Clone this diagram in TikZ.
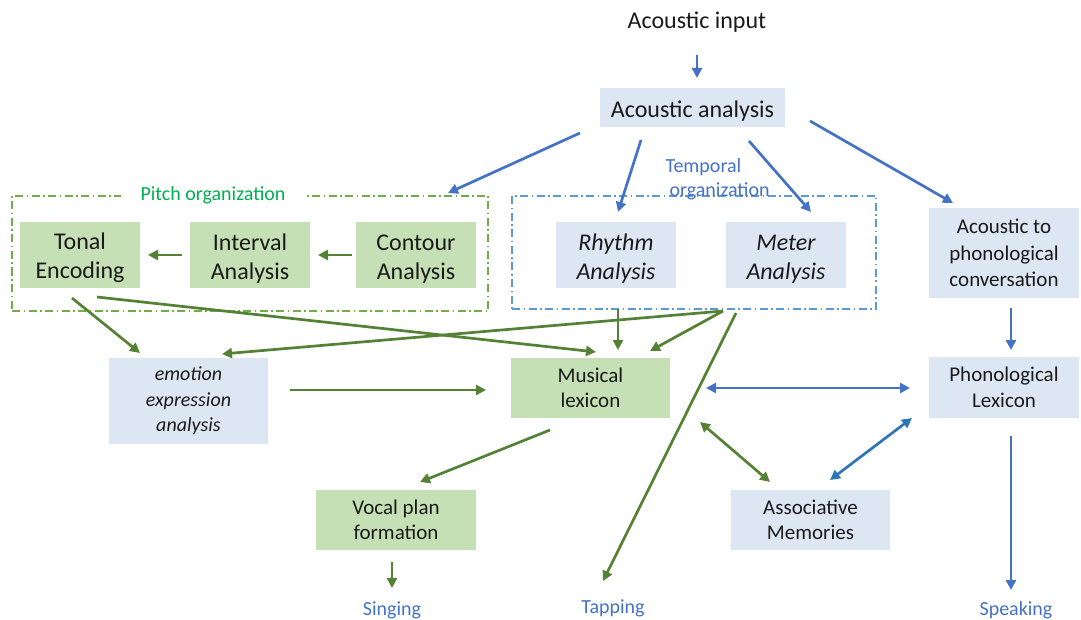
\documentclass[tikz,border=0pt]{standalone}
\usepackage{fontspec}
\setmainfont{Carlito}
\usetikzlibrary{arrows.meta,calc}
\definecolor{boxblue}{HTML}{DDE7F3}
\definecolor{boxgreen}{HTML}{C5E0B4}
\definecolor{lineblue}{HTML}{4472C4}
\definecolor{linegreen}{HTML}{548235}
\definecolor{assocblue}{HTML}{2E75B6}
\definecolor{pitchgreen}{HTML}{00B050}
\definecolor{framegreen}{HTML}{70AD47}
\definecolor{frameblue}{HTML}{5B9BD5}
\definecolor{ink}{HTML}{1A1A1A}
% extra room above a first line sets the text a little lower in its box
\newcommand\boxstrut{\rule{0pt}{23pt}}
\tikzset{
  tip/.tip={Triangle[length=10pt,width=10pt]},
  big/.style={font=\fontsize{24}{29}\selectfont, text=ink},
  mid/.style={font=\fontsize{21}{25.5}\selectfont},
  small/.style={font=\fontsize{20}{24}\selectfont},
  bluebox/.style={big, fill=boxblue, align=center, inner sep=0pt},
  greenbox/.style={big, fill=boxgreen, align=center, inner sep=0pt},
  frame/.style={line width=1.2pt, dash pattern=on 8pt off 3.5pt on 1.5pt off 3.5pt, inner sep=0pt},
  barrow/.style={line width=2.7pt, lineblue, -tip},
  garrow/.style={line width=2.7pt, linegreen, -tip},
  both/.style={tip-tip},
  outlabel/.style={small, text=lineblue}
}
\begin{document}
\begin{tikzpicture}[x=1pt,y=-1pt]
\useasboundingbox (0,0) rectangle (1081,620);

% grouping frames
\node[frame, draw=framegreen, minimum width=476pt, minimum height=115pt] (pbox) at (250,253.5) {};
\node[frame, draw=frameblue, minimum width=364pt, minimum height=113pt] (tbox) at (694,252.5) {};
\node[small, text=pitchgreen, fill=white, inner xsep=20pt, inner ysep=1pt] (plabel) at (213,195.5) {Pitch organization};
\node[small, text=lineblue, align=left, anchor=west] (tlabel) at (662,179) {Temporal\\\hspace*{4pt}organization};

% processing modules
\node[big] (ain) at (697,22) {Acoustic input};
\node[bluebox, minimum width=185pt, minimum height=39pt] (aa) at (692.5,107.5) {\boxstrut Acoustic analysis};
\node[greenbox, minimum width=120pt, minimum height=66pt] (te) at (80,255) {\boxstrut Tonal\\Encoding};
\node[greenbox, minimum width=120pt, minimum height=66pt] (ia) at (250,255) {\boxstrut Interval\\Analysis};
\node[greenbox, minimum width=120pt, minimum height=66pt] (ca) at (416,255) {\boxstrut Contour\\Analysis};
\node[bluebox, minimum width=120pt, minimum height=66pt, font=\fontsize{24}{29}\selectfont\itshape] (rh) at (616,255) {\boxstrut Rhythm\\Analysis};
\node[bluebox, minimum width=120pt, minimum height=66pt, font=\fontsize{24}{29}\selectfont\itshape] (me) at (786,255) {\boxstrut Meter\\Analysis};
\node[bluebox, minimum width=150pt, minimum height=90pt, font=\fontsize{21}{26.5}\selectfont] (apc) at (1004,253) {Acoustic to\\phonological\\conversation};
\node[bluebox, minimum width=150pt, minimum height=61pt, mid] (pl) at (1004,387.5) {Phonological\\Lexicon};
\node[bluebox, minimum width=159pt, minimum height=86pt, font=\fontsize{20}{25.5}\selectfont\itshape] (emo) at (188.5,401) {emotion\\expression\\analysis};
\node[greenbox, minimum width=159pt, minimum height=60pt, mid] (ml) at (590.5,388) {Musical\\lexicon};
\node[greenbox, minimum width=160pt, minimum height=60pt, mid] (vp) at (396,520) {Vocal plan\\formation};
\node[bluebox, minimum width=159pt, minimum height=60pt, mid] (am) at (810.5,520) {Associative\\Memories};

% outputs
\node[outlabel] (sing) at (392,610) {Singing};
\node[outlabel] (tap) at (613,608) {Tapping};
\node[outlabel] (speak) at (1016,610) {Speaking};

% acoustic analysis fan-out
\draw[barrow] ($(ain)+(0,33)$) -- ($(aa)+(4.5,-29.5)$);
\draw[barrow] ($(aa)+(-112.5,25.5)$) -- ($(pbox)+(198,-60.5)$);
\draw[barrow] ($(aa)+(-51.5,32.5)$) -- ($(rh)+(2,-43)$);
\draw[barrow] ($(aa)+(56.5,33.5)$) -- ($(me)+(25,-43)$);
\draw[barrow] ($(aa)+(117.5,13.5)$) -- ($(apc)+(-51,-50)$);

% pitch pathway
\draw[garrow] ($(ca)+(-64,0)$) -- ($(ia)+(68,0)$);
\draw[garrow] ($(ia)+(-68,0)$) -- ($(te)+(68,0)$);
\draw[garrow] ($(te)+(-8,43)$) -- ($(emo)+(-48.5,-48)$);
\draw[garrow] ($(te)+(17,42)$) -- ($(ml)+(5.5,-36)$);

% temporal pathway
\draw[garrow] ($(tbox)+(29,58.5)$) -- ($(emo)+(33.5,-47)$);
\draw[garrow] ($(tbox)+(29,58.5)$) -- ($(ml)+(59.5,-37)$);
\draw[garrow] ($(tbox)+(-76,56.5)$) -- ($(ml)+(27.5,-38)$);
\draw[garrow] ($(tbox)+(42,60.5)$) -- ($(tap)+(-10,-27)$);

% lexicon and outputs
\draw[garrow] ($(emo)+(101.5,-11)$) -- ($(ml)+(-104.5,2)$);
\draw[garrow] ($(ml)+(-40.5,42)$) -- ($(vp)+(24,-38)$);
\draw[garrow] ($(vp)+(-4,42)$) -- ($(sing)+(0,-22)$);
\draw[garrow, both] ($(ml)+(109.5,34)$) -- ($(am)+(-40.5,-38)$);
\draw[barrow, both] ($(ml)+(115.5,0)$) -- ($(pl)+(-94,0.5)$);
\draw[barrow, assocblue, both] ($(am)+(19.5,-40)$) -- ($(pl)+(-92,30.5)$);
\draw[barrow] ($(apc)+(7,55)$) -- ($(pl)+(7,-37.5)$);
\draw[barrow] ($(pl)+(7,48.5)$) -- ($(speak)+(-5,-20)$);
\end{tikzpicture}
\end{document}
